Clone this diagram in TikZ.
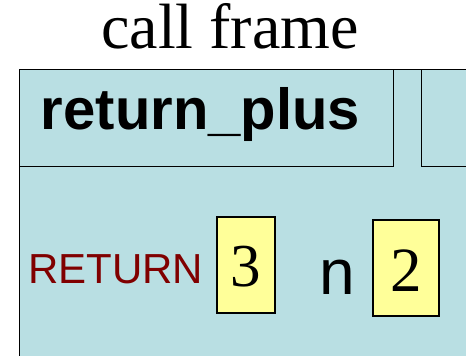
\documentclass[tikz,border=0pt]{standalone}
\usepackage{fontspec}
\setmainfont{Liberation Serif}
\setsansfont{Liberation Sans}
\definecolor{framebg}{HTML}{B9DFE3}
\definecolor{valbg}{HTML}{FFFF99}
\definecolor{retred}{HTML}{800000}
\tikzset{
  framebox/.style={draw=black, fill=framebg, line width=1.3pt, inner sep=0pt, anchor=north west},
  valbox/.style={draw=black, fill=valbg, line width=1.3pt, inner sep=0pt},
}
\begin{document}
\begin{tikzpicture}[x=1pt,y=1pt]
\useasboundingbox (0,0) rectangle (466,356);
\clip (0,0) rectangle (466,356);
\node[framebox, minimum width=470pt, minimum height=300pt] (frame) at (19,287) {};
\node[framebox, minimum width=374pt, minimum height=97pt] (title) at (19,287) {};
\node[framebox, minimum width=60pt, minimum height=97pt] (next) at (421,287) {};
\node[anchor=base, inner sep=0pt, font=\fontsize{64}{70}\selectfont] (cap) at (230,307) {call frame};
\node[anchor=base, inner sep=0pt, font=\sffamily\bfseries\fontsize{58}{62}\selectfont] (fname) at (200.5,226) {return\_plus};
\node[valbox, minimum width=58pt, minimum height=96pt] (v1) at (246,91) {};
\node[valbox, minimum width=66pt, minimum height=96pt] (v2) at (406,88) {};
\node[anchor=base west, inner sep=0pt, text=retred, font=\sffamily\fontsize{42}{46}\selectfont] (ret) at (28,72) {RETURN};
\node[anchor=base, inner sep=0pt, font=\fontsize{61}{66}\selectfont] (three) at (246,69) {3};
\node[anchor=base, inner sep=0pt, font=\sffamily\fontsize{64}{70}\selectfont] (n) at (337.5,61) {n};
\node[anchor=base, inner sep=0pt, font=\fontsize{63}{68}\selectfont] (two) at (406,64) {2};
\end{tikzpicture}
\end{document}
